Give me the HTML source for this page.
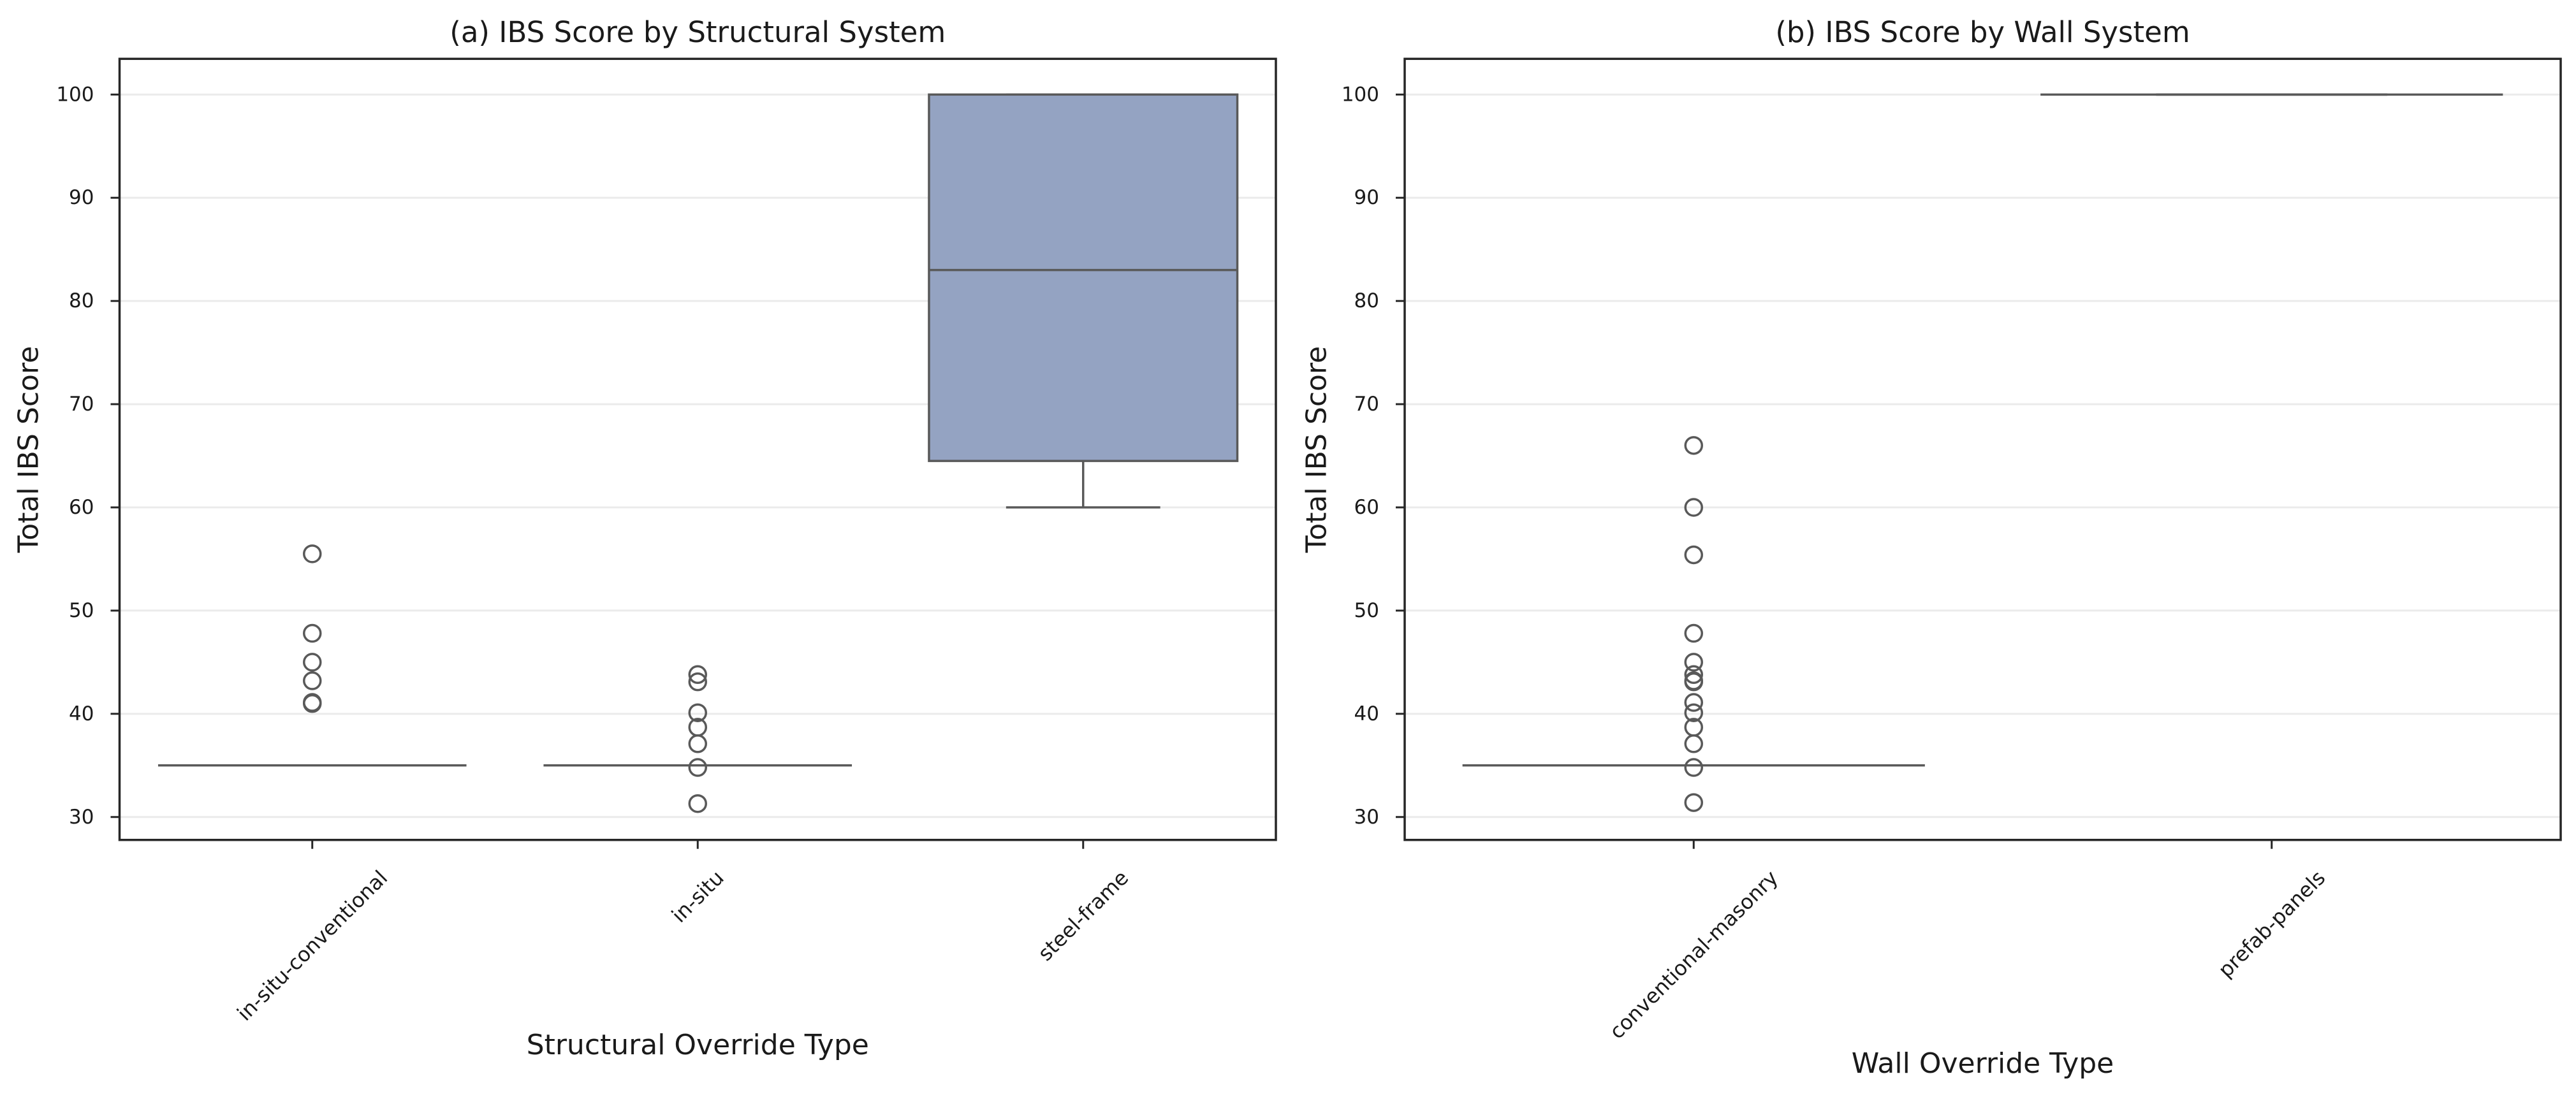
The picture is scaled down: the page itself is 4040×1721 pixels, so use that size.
<!DOCTYPE html>
<html><head><meta charset="utf-8"><style>
html,body{margin:0;padding:0;background:#fff;}
svg{display:block;font-family:"DejaVu Sans","Liberation Sans",sans-serif;}
</style></head><body>
<svg id="chart" width="4040" height="1721" viewBox="0 0 4040 1721" xmlns="http://www.w3.org/2000/svg">
<rect width="4040" height="1721" fill="#fff"/>
</svg>
<script>
// Panel A data
const catsA = ["in-situ-conventional", "in-situ", "steel-frame"];
const whiskLoA = [35, 35, 60];
const q1A = [35, 35, 64.5];
const medA = [35, 35, 83];
const q3A = [35, 35, 100];
const whiskHiA = [35, 35, 100];
const fliersA0 = [55.5, 47.8, 45, 43.2, 41, 41.1];
const fliersA1 = [43.8, 43.1, 40.1, 38.7, 37.1, 34.8, 31.3];
const fliersA2 = [];
// Panel B data
const catsB = ["conventional-masonry", "prefab-panels"];
const whiskLoB = [35, 100];
const q1B = [35, 100];
const medB = [35, 100];
const q3B = [35, 100];
const whiskHiB = [35, 100];
const fliersB0 = [66, 60, 55.4, 47.8, 45, 43.8, 43.2, 43.1, 41.1, 40.1, 38.7, 37.1, 34.8, 31.4];
const fliersB1 = [];
const yTicks = [30, 40, 50, 60, 70, 80, 90, 100];

const NS = "http://www.w3.org/2000/svg";
const svg = document.getElementById('chart');
function mk(tag, attrs, parent) {
  const e = document.createElementNS(NS, tag);
  for (const k in attrs) e.setAttribute(k, attrs[k]);
  (parent || svg).appendChild(e);
  return e;
}
const Y0 = 27.78, Y1 = 103.46, TOP = 92.3, BOT = 1317.7;
function yScale(v) { return BOT - (v - Y0) / (Y1 - Y0) * (BOT - TOP); }

function panel(opts) {
  const {left, right, cats, lo, q1, med, q3, hi, fliers, title, xlabel, xlabelY, ylabelX, name} = opts;
  const g = mk('g', {});
  
  
  const w = right - left;
  const step = w / cats.length;
  const xScale = i => left + step * (i + 0.5);
  yTicks.forEach(t => {
    const gl = mk('line', {x1: left, x2: right, y1: yScale(t), y2: yScale(t), stroke: '#ebebeb', 'stroke-width': 3}, g);
    
    
    const tk = mk('line', {x1: left - 14, x2: left, y1: yScale(t), y2: yScale(t), stroke: '#262626', 'stroke-width': 3}, g);
    
    
    const tl = mk('text', {x: left - 40, y: yScale(t), 'text-anchor': 'end', 'dominant-baseline': 'central', 'font-size': 31, fill: '#1a1a1a'}, g);
    tl.textContent = t;
    
    
  });
  const bw = step * 0.8;
  cats.forEach((c, i) => {
    const cx = xScale(i);
    const bg = mk('g', {}, g);
    
    
    const col = '#595959';
    mk('line', {x1: cx, x2: cx, y1: yScale(q1[i]), y2: yScale(lo[i]), stroke: col, 'stroke-width': 3.5}, bg);
    mk('line', {x1: cx, x2: cx, y1: yScale(q3[i]), y2: yScale(hi[i]), stroke: col, 'stroke-width': 3.5}, bg);
    mk('line', {x1: cx - bw / 4, x2: cx + bw / 4, y1: yScale(lo[i]), y2: yScale(lo[i]), stroke: col, 'stroke-width': 3.5}, bg);
    mk('line', {x1: cx - bw / 4, x2: cx + bw / 4, y1: yScale(hi[i]), y2: yScale(hi[i]), stroke: col, 'stroke-width': 3.5}, bg);
    mk('rect', {x: cx - bw / 2, y: yScale(q3[i]), width: bw, height: Math.max(0, yScale(q1[i]) - yScale(q3[i])), fill: '#94a3c2', stroke: col, 'stroke-width': 3.5}, bg);
    mk('line', {x1: cx - bw / 2, x2: cx + bw / 2, y1: yScale(med[i]), y2: yScale(med[i]), stroke: col, 'stroke-width': 3.5}, bg);
    fliers[i].forEach(v => {
      const f = mk('circle', {cx: cx, cy: yScale(v), r: 13, fill: 'none', stroke: col, 'stroke-width': 3.5}, bg);
      
      
    });
    const xt = mk('line', {x1: cx, x2: cx, y1: BOT, y2: BOT + 14, stroke: '#262626', 'stroke-width': 3}, g);
    
    
    const lab = mk('text', {x: 0, y: 0, 'text-anchor': 'end', 'font-size': 32, fill: '#1a1a1a'}, g);
    lab.textContent = c;
    
    
    let px = cx, py = 1380;
    lab.setAttribute('x', px); lab.setAttribute('y', py);
    lab.setAttribute('transform', `rotate(-45 ${px} ${py})`);
    const r = lab.getBoundingClientRect();
    const dx = cx - (r.left + r.right) / 2;
    const dy = 1358 - r.top;
    px += dx; py += dy;
    lab.setAttribute('x', px); lab.setAttribute('y', py);
    lab.setAttribute('transform', `rotate(-45 ${px} ${py})`);
  });
  const fr = mk('rect', {x: left, y: TOP, width: w, height: BOT - TOP, fill: 'none', stroke: '#262626', 'stroke-width': 3.5}, g);
  
  
  const t = mk('text', {x: (left + right) / 2, y: 66, 'text-anchor': 'middle', 'font-size': 45, fill: '#1a1a1a'}, g);
  t.textContent = title;
  
  
  const xl = mk('text', {x: (left + right) / 2, y: xlabelY, 'text-anchor': 'middle', 'font-size': 44, fill: '#1a1a1a'}, g);
  xl.textContent = xlabel;
  
  
  const yl = mk('text', {x: ylabelX, y: (TOP + BOT) / 2, 'text-anchor': 'middle', 'dominant-baseline': 'central', 'font-size': 44, fill: '#1a1a1a', transform: `rotate(-90 ${ylabelX} ${(TOP + BOT) / 2})`}, g);
  yl.textContent = 'Total IBS Score';
  
  
}
panel({left: 187.5, right: 2001, cats: catsA, lo: whiskLoA, q1: q1A, med: medA, q3: q3A, hi: whiskHiA,
  fliers: [fliersA0, fliersA1, fliersA2], title: '(a) IBS Score by Structural System', xlabel: 'Structural Override Type',
  xlabelY: 1654, ylabelX: 45, name: 'panel-structural-system'});
panel({left: 2203, right: 4016, cats: catsB, lo: whiskLoB, q1: q1B, med: medB, q3: q3B, hi: whiskHiB,
  fliers: [fliersB0, fliersB1], title: '(b) IBS Score by Wall System', xlabel: 'Wall Override Type',
  xlabelY: 1683, ylabelX: 2065, name: 'panel-wall-system'});
</script>
</body></html>
